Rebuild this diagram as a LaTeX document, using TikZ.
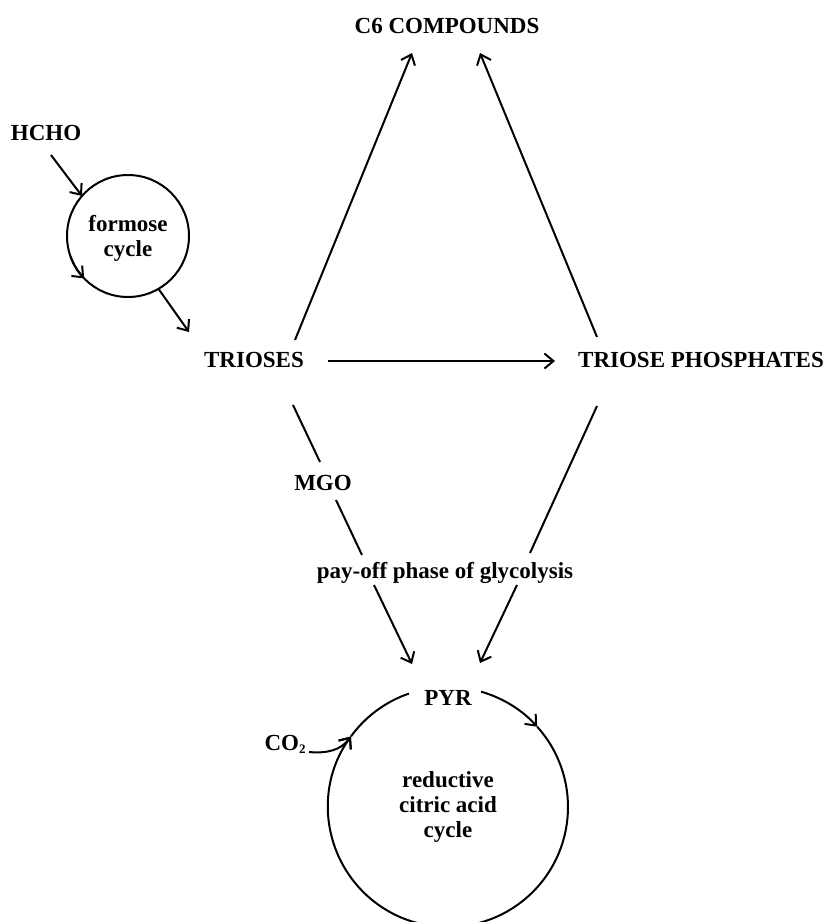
\documentclass[tikz,border=0pt]{standalone}
\usepackage{fontspec}
\setmainfont{Liberation Serif}
\usetikzlibrary{arrows.meta}
\begin{document}
\begin{tikzpicture}[x=1pt,y=1pt,line width=2pt,
    txt/.style={font=\fontsize{23}{25}\selectfont\bfseries,inner sep=0pt,anchor=base},
    cyc/.style={circle,inner sep=0pt,outer sep=0pt,align=center,font=\fontsize{23}{25}\selectfont\bfseries},
    arr/.style={-{Straight Barb[length=9pt,width=15pt]}}]
    \useasboundingbox (0,0) rectangle (826,-922);
    \node[txt] (c6) at (447,-33) {C6 COMPOUNDS};
    \node[txt] (hcho) at (46,-140) {HCHO};
    \node[cyc,draw,minimum size=122pt,text depth=0pt] (formose) at (128,-236) {formose\\cycle};
    \node[txt] (trioses) at (254,-367) {TRIOSES};
    \node[txt] (tp) at (701,-367) {TRIOSE PHOSPHATES};
    \node[txt] (mgo) at (323,-490) {MGO};
    \node[txt] (payoff) at (445,-578) {pay-off phase of glycolysis};
    \node[txt] (pyr) at (448,-705) {PYR};
    \node[txt] (co2) at (285,-750) {CO\raisebox{-3pt}{\fontsize{13}{13}\selectfont 2}};
    \node[cyc,minimum size=240pt] (rca) at (448,-807) {reductive\\citric acid\\cycle};
    \draw[arr] ([shift={(5,-15)}]hcho.base) -- (formose.139);
    \draw[arr] (formose.200) arc[start angle=200,end angle=224,radius=61pt];
    \draw[arr] (formose.-60) -- ([shift={(-65,35)}]trioses.base);
    \draw[arr] ([shift={(41,27)}]trioses.base) -- ([shift={(-35,-20)}]c6.base);
    \draw[arr] ([shift={(-104,30)}]tp.base) -- ([shift={(33,-20)}]c6.base);
    \draw[arr] ([shift={(74,6)}]trioses.base) -- ([shift={(-146,6)}]tp.base);
    \draw ([shift={(39,-38)}]trioses.base) -- ([shift={(-3,28)}]mgo.base);
    \draw ([shift={(13,-10)}]mgo.base) -- ([shift={(-83,23)}]payoff.base);
    \draw[arr] ([shift={(-71,-7)}]payoff.base) -- ([shift={(-36,41)}]pyr.base);
    \draw ([shift={(-104,-39)}]tp.base) -- ([shift={(85,25)}]payoff.base);
    \draw[arr] ([shift={(72,-7)}]payoff.base) -- ([shift={(32,42)}]pyr.base);
    \draw[arr] (rca.74) arc[start angle=74,end angle=42,radius=120pt];
    \draw[arr] (rca.42) arc[start angle=42,end angle=-216,radius=120pt];
    \draw (rca.144) arc[start angle=144,end angle=109,radius=120pt];
    \draw[arr] ([shift={(24,-2)}]co2.base) to[out=-5,in=234] (rca.144);
\end{tikzpicture}
\end{document}
